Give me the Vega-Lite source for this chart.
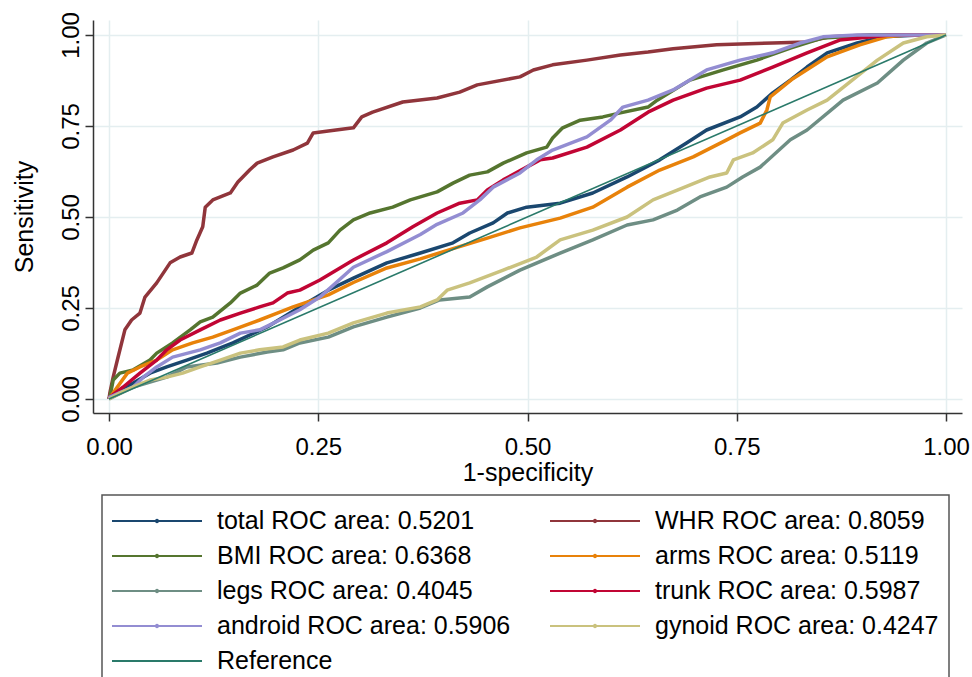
{
  "$schema": "https://vega.github.io/schema/vega-lite/v6.json",
  "width": 869,
  "height": 393,
  "autosize": {"type": "none"},
  "padding": {"left": 93, "top": 20, "right": 10, "bottom": 264},
  "background": "white",
  "config": {
    "font": "Liberation Sans",
    "view": {"stroke": null},
    "axis": {
      "domainColor": "#333333",
      "domainWidth": 1.5,
      "tickColor": "#333333",
      "tickWidth": 1.5,
      "tickSize": 8,
      "gridColor": "#e4eef0",
      "gridWidth": 1.5,
      "labelFontSize": 24,
      "titleFontSize": 25,
      "titleFontWeight": "normal",
      "labelColor": "#000000",
      "titleColor": "#000000",
      "labelFont": "Liberation Sans",
      "titleFont": "Liberation Sans"
    }
  },
  "layer": [
    {
      "data": {
        "values": [
          {"s": "total ROC area: 0.5201", "x": 0, "y": 0},
          {"s": "total ROC area: 0.5201", "x": 0.001, "y": 0.005},
          {"s": "total ROC area: 0.5201", "x": 0.029, "y": 0.044},
          {"s": "total ROC area: 0.5201", "x": 0.049, "y": 0.071},
          {"s": "total ROC area: 0.5201", "x": 0.069, "y": 0.088},
          {"s": "total ROC area: 0.5201", "x": 0.093, "y": 0.107},
          {"s": "total ROC area: 0.5201", "x": 0.117, "y": 0.126},
          {"s": "total ROC area: 0.5201", "x": 0.148, "y": 0.154},
          {"s": "total ROC area: 0.5201", "x": 0.189, "y": 0.198},
          {"s": "total ROC area: 0.5201", "x": 0.228, "y": 0.253},
          {"s": "total ROC area: 0.5201", "x": 0.262, "y": 0.299},
          {"s": "total ROC area: 0.5201", "x": 0.292, "y": 0.332},
          {"s": "total ROC area: 0.5201", "x": 0.332, "y": 0.374},
          {"s": "total ROC area: 0.5201", "x": 0.372, "y": 0.401},
          {"s": "total ROC area: 0.5201", "x": 0.411, "y": 0.429},
          {"s": "total ROC area: 0.5201", "x": 0.431, "y": 0.456},
          {"s": "total ROC area: 0.5201", "x": 0.459, "y": 0.484},
          {"s": "total ROC area: 0.5201", "x": 0.476, "y": 0.511},
          {"s": "total ROC area: 0.5201", "x": 0.499, "y": 0.527},
          {"s": "total ROC area: 0.5201", "x": 0.539, "y": 0.538},
          {"s": "total ROC area: 0.5201", "x": 0.578, "y": 0.566},
          {"s": "total ROC area: 0.5201", "x": 0.619, "y": 0.610},
          {"s": "total ROC area: 0.5201", "x": 0.658, "y": 0.657},
          {"s": "total ROC area: 0.5201", "x": 0.690, "y": 0.703},
          {"s": "total ROC area: 0.5201", "x": 0.714, "y": 0.739},
          {"s": "total ROC area: 0.5201", "x": 0.754, "y": 0.775},
          {"s": "total ROC area: 0.5201", "x": 0.774, "y": 0.802},
          {"s": "total ROC area: 0.5201", "x": 0.793, "y": 0.841},
          {"s": "total ROC area: 0.5201", "x": 0.814, "y": 0.876},
          {"s": "total ROC area: 0.5201", "x": 0.834, "y": 0.912},
          {"s": "total ROC area: 0.5201", "x": 0.858, "y": 0.951},
          {"s": "total ROC area: 0.5201", "x": 0.894, "y": 0.978},
          {"s": "total ROC area: 0.5201", "x": 0.925, "y": 0.995},
          {"s": "total ROC area: 0.5201", "x": 0.969, "y": 1},
          {"s": "total ROC area: 0.5201", "x": 1, "y": 1},

          {"s": "WHR ROC area: 0.8059", "x": 0, "y": 0},
          {"s": "WHR ROC area: 0.8059", "x": 0.001, "y": 0.016},
          {"s": "WHR ROC area: 0.8059", "x": 0.005, "y": 0.060},
          {"s": "WHR ROC area: 0.8059", "x": 0.010, "y": 0.107},
          {"s": "WHR ROC area: 0.8059", "x": 0.019, "y": 0.190},
          {"s": "WHR ROC area: 0.8059", "x": 0.027, "y": 0.217},
          {"s": "WHR ROC area: 0.8059", "x": 0.037, "y": 0.236},
          {"s": "WHR ROC area: 0.8059", "x": 0.043, "y": 0.280},
          {"s": "WHR ROC area: 0.8059", "x": 0.057, "y": 0.319},
          {"s": "WHR ROC area: 0.8059", "x": 0.073, "y": 0.374},
          {"s": "WHR ROC area: 0.8059", "x": 0.085, "y": 0.390},
          {"s": "WHR ROC area: 0.8059", "x": 0.099, "y": 0.401},
          {"s": "WHR ROC area: 0.8059", "x": 0.105, "y": 0.437},
          {"s": "WHR ROC area: 0.8059", "x": 0.112, "y": 0.473},
          {"s": "WHR ROC area: 0.8059", "x": 0.115, "y": 0.527},
          {"s": "WHR ROC area: 0.8059", "x": 0.124, "y": 0.547},
          {"s": "WHR ROC area: 0.8059", "x": 0.145, "y": 0.566},
          {"s": "WHR ROC area: 0.8059", "x": 0.154, "y": 0.596},
          {"s": "WHR ROC area: 0.8059", "x": 0.168, "y": 0.629},
          {"s": "WHR ROC area: 0.8059", "x": 0.177, "y": 0.648},
          {"s": "WHR ROC area: 0.8059", "x": 0.196, "y": 0.665},
          {"s": "WHR ROC area: 0.8059", "x": 0.220, "y": 0.684},
          {"s": "WHR ROC area: 0.8059", "x": 0.237, "y": 0.703},
          {"s": "WHR ROC area: 0.8059", "x": 0.244, "y": 0.731},
          {"s": "WHR ROC area: 0.8059", "x": 0.262, "y": 0.736},
          {"s": "WHR ROC area: 0.8059", "x": 0.292, "y": 0.745},
          {"s": "WHR ROC area: 0.8059", "x": 0.302, "y": 0.775},
          {"s": "WHR ROC area: 0.8059", "x": 0.315, "y": 0.788},
          {"s": "WHR ROC area: 0.8059", "x": 0.351, "y": 0.816},
          {"s": "WHR ROC area: 0.8059", "x": 0.392, "y": 0.827},
          {"s": "WHR ROC area: 0.8059", "x": 0.419, "y": 0.843},
          {"s": "WHR ROC area: 0.8059", "x": 0.440, "y": 0.863},
          {"s": "WHR ROC area: 0.8059", "x": 0.491, "y": 0.885},
          {"s": "WHR ROC area: 0.8059", "x": 0.507, "y": 0.904},
          {"s": "WHR ROC area: 0.8059", "x": 0.530, "y": 0.918},
          {"s": "WHR ROC area: 0.8059", "x": 0.571, "y": 0.931},
          {"s": "WHR ROC area: 0.8059", "x": 0.611, "y": 0.945},
          {"s": "WHR ROC area: 0.8059", "x": 0.644, "y": 0.953},
          {"s": "WHR ROC area: 0.8059", "x": 0.674, "y": 0.962},
          {"s": "WHR ROC area: 0.8059", "x": 0.726, "y": 0.973},
          {"s": "WHR ROC area: 0.8059", "x": 0.793, "y": 0.978},
          {"s": "WHR ROC area: 0.8059", "x": 0.834, "y": 0.981},
          {"s": "WHR ROC area: 0.8059", "x": 0.861, "y": 0.995},
          {"s": "WHR ROC area: 0.8059", "x": 0.909, "y": 1},
          {"s": "WHR ROC area: 0.8059", "x": 1, "y": 1},

          {"s": "BMI ROC area: 0.6368", "x": 0, "y": 0},
          {"s": "BMI ROC area: 0.6368", "x": 0.001, "y": 0.005},
          {"s": "BMI ROC area: 0.6368", "x": 0.005, "y": 0.052},
          {"s": "BMI ROC area: 0.6368", "x": 0.013, "y": 0.071},
          {"s": "BMI ROC area: 0.6368", "x": 0.029, "y": 0.080},
          {"s": "BMI ROC area: 0.6368", "x": 0.049, "y": 0.107},
          {"s": "BMI ROC area: 0.6368", "x": 0.057, "y": 0.126},
          {"s": "BMI ROC area: 0.6368", "x": 0.076, "y": 0.154},
          {"s": "BMI ROC area: 0.6368", "x": 0.097, "y": 0.190},
          {"s": "BMI ROC area: 0.6368", "x": 0.109, "y": 0.212},
          {"s": "BMI ROC area: 0.6368", "x": 0.124, "y": 0.225},
          {"s": "BMI ROC area: 0.6368", "x": 0.145, "y": 0.264},
          {"s": "BMI ROC area: 0.6368", "x": 0.157, "y": 0.291},
          {"s": "BMI ROC area: 0.6368", "x": 0.177, "y": 0.313},
          {"s": "BMI ROC area: 0.6368", "x": 0.192, "y": 0.346},
          {"s": "BMI ROC area: 0.6368", "x": 0.208, "y": 0.360},
          {"s": "BMI ROC area: 0.6368", "x": 0.228, "y": 0.382},
          {"s": "BMI ROC area: 0.6368", "x": 0.244, "y": 0.409},
          {"s": "BMI ROC area: 0.6368", "x": 0.262, "y": 0.429},
          {"s": "BMI ROC area: 0.6368", "x": 0.276, "y": 0.464},
          {"s": "BMI ROC area: 0.6368", "x": 0.292, "y": 0.492},
          {"s": "BMI ROC area: 0.6368", "x": 0.312, "y": 0.511},
          {"s": "BMI ROC area: 0.6368", "x": 0.339, "y": 0.527},
          {"s": "BMI ROC area: 0.6368", "x": 0.360, "y": 0.547},
          {"s": "BMI ROC area: 0.6368", "x": 0.392, "y": 0.569},
          {"s": "BMI ROC area: 0.6368", "x": 0.411, "y": 0.593},
          {"s": "BMI ROC area: 0.6368", "x": 0.431, "y": 0.615},
          {"s": "BMI ROC area: 0.6368", "x": 0.452, "y": 0.624},
          {"s": "BMI ROC area: 0.6368", "x": 0.471, "y": 0.648},
          {"s": "BMI ROC area: 0.6368", "x": 0.499, "y": 0.676},
          {"s": "BMI ROC area: 0.6368", "x": 0.523, "y": 0.692},
          {"s": "BMI ROC area: 0.6368", "x": 0.530, "y": 0.717},
          {"s": "BMI ROC area: 0.6368", "x": 0.542, "y": 0.745},
          {"s": "BMI ROC area: 0.6368", "x": 0.563, "y": 0.766},
          {"s": "BMI ROC area: 0.6368", "x": 0.590, "y": 0.775},
          {"s": "BMI ROC area: 0.6368", "x": 0.611, "y": 0.786},
          {"s": "BMI ROC area: 0.6368", "x": 0.644, "y": 0.802},
          {"s": "BMI ROC area: 0.6368", "x": 0.655, "y": 0.821},
          {"s": "BMI ROC area: 0.6368", "x": 0.694, "y": 0.876},
          {"s": "BMI ROC area: 0.6368", "x": 0.734, "y": 0.904},
          {"s": "BMI ROC area: 0.6368", "x": 0.774, "y": 0.931},
          {"s": "BMI ROC area: 0.6368", "x": 0.814, "y": 0.964},
          {"s": "BMI ROC area: 0.6368", "x": 0.853, "y": 0.992},
          {"s": "BMI ROC area: 0.6368", "x": 0.913, "y": 1},
          {"s": "BMI ROC area: 0.6368", "x": 1, "y": 1},

          {"s": "arms ROC area: 0.5119", "x": 0, "y": 0},
          {"s": "arms ROC area: 0.5119", "x": 0.010, "y": 0.033},
          {"s": "arms ROC area: 0.5119", "x": 0.022, "y": 0.071},
          {"s": "arms ROC area: 0.5119", "x": 0.037, "y": 0.088},
          {"s": "arms ROC area: 0.5119", "x": 0.057, "y": 0.107},
          {"s": "arms ROC area: 0.5119", "x": 0.076, "y": 0.135},
          {"s": "arms ROC area: 0.5119", "x": 0.100, "y": 0.154},
          {"s": "arms ROC area: 0.5119", "x": 0.124, "y": 0.170},
          {"s": "arms ROC area: 0.5119", "x": 0.148, "y": 0.190},
          {"s": "arms ROC area: 0.5119", "x": 0.180, "y": 0.217},
          {"s": "arms ROC area: 0.5119", "x": 0.201, "y": 0.236},
          {"s": "arms ROC area: 0.5119", "x": 0.220, "y": 0.253},
          {"s": "arms ROC area: 0.5119", "x": 0.262, "y": 0.286},
          {"s": "arms ROC area: 0.5119", "x": 0.292, "y": 0.320},
          {"s": "arms ROC area: 0.5119", "x": 0.332, "y": 0.360},
          {"s": "arms ROC area: 0.5119", "x": 0.372, "y": 0.385},
          {"s": "arms ROC area: 0.5119", "x": 0.411, "y": 0.413},
          {"s": "arms ROC area: 0.5119", "x": 0.452, "y": 0.442},
          {"s": "arms ROC area: 0.5119", "x": 0.491, "y": 0.470},
          {"s": "arms ROC area: 0.5119", "x": 0.539, "y": 0.497},
          {"s": "arms ROC area: 0.5119", "x": 0.578, "y": 0.527},
          {"s": "arms ROC area: 0.5119", "x": 0.619, "y": 0.582},
          {"s": "arms ROC area: 0.5119", "x": 0.658, "y": 0.629},
          {"s": "arms ROC area: 0.5119", "x": 0.698, "y": 0.665},
          {"s": "arms ROC area: 0.5119", "x": 0.738, "y": 0.712},
          {"s": "arms ROC area: 0.5119", "x": 0.754, "y": 0.731},
          {"s": "arms ROC area: 0.5119", "x": 0.778, "y": 0.758},
          {"s": "arms ROC area: 0.5119", "x": 0.786, "y": 0.794},
          {"s": "arms ROC area: 0.5119", "x": 0.790, "y": 0.830},
          {"s": "arms ROC area: 0.5119", "x": 0.817, "y": 0.880},
          {"s": "arms ROC area: 0.5119", "x": 0.858, "y": 0.940},
          {"s": "arms ROC area: 0.5119", "x": 0.897, "y": 0.973},
          {"s": "arms ROC area: 0.5119", "x": 0.929, "y": 0.995},
          {"s": "arms ROC area: 0.5119", "x": 0.953, "y": 1},
          {"s": "arms ROC area: 0.5119", "x": 1, "y": 1},

          {"s": "legs ROC area: 0.4045", "x": 0, "y": 0},
          {"s": "legs ROC area: 0.4045", "x": 0.029, "y": 0.033},
          {"s": "legs ROC area: 0.4045", "x": 0.069, "y": 0.060},
          {"s": "legs ROC area: 0.4045", "x": 0.093, "y": 0.088},
          {"s": "legs ROC area: 0.4045", "x": 0.129, "y": 0.099},
          {"s": "legs ROC area: 0.4045", "x": 0.157, "y": 0.115},
          {"s": "legs ROC area: 0.4045", "x": 0.189, "y": 0.129},
          {"s": "legs ROC area: 0.4045", "x": 0.208, "y": 0.135},
          {"s": "legs ROC area: 0.4045", "x": 0.228, "y": 0.154},
          {"s": "legs ROC area: 0.4045", "x": 0.262, "y": 0.170},
          {"s": "legs ROC area: 0.4045", "x": 0.292, "y": 0.198},
          {"s": "legs ROC area: 0.4045", "x": 0.332, "y": 0.225},
          {"s": "legs ROC area: 0.4045", "x": 0.372, "y": 0.250},
          {"s": "legs ROC area: 0.4045", "x": 0.395, "y": 0.272},
          {"s": "legs ROC area: 0.4045", "x": 0.431, "y": 0.280},
          {"s": "legs ROC area: 0.4045", "x": 0.452, "y": 0.308},
          {"s": "legs ROC area: 0.4045", "x": 0.491, "y": 0.354},
          {"s": "legs ROC area: 0.4045", "x": 0.539, "y": 0.401},
          {"s": "legs ROC area: 0.4045", "x": 0.578, "y": 0.437},
          {"s": "legs ROC area: 0.4045", "x": 0.619, "y": 0.478},
          {"s": "legs ROC area: 0.4045", "x": 0.650, "y": 0.492},
          {"s": "legs ROC area: 0.4045", "x": 0.679, "y": 0.519},
          {"s": "legs ROC area: 0.4045", "x": 0.706, "y": 0.555},
          {"s": "legs ROC area: 0.4045", "x": 0.738, "y": 0.582},
          {"s": "legs ROC area: 0.4045", "x": 0.757, "y": 0.610},
          {"s": "legs ROC area: 0.4045", "x": 0.778, "y": 0.637},
          {"s": "legs ROC area: 0.4045", "x": 0.814, "y": 0.712},
          {"s": "legs ROC area: 0.4045", "x": 0.834, "y": 0.739},
          {"s": "legs ROC area: 0.4045", "x": 0.877, "y": 0.821},
          {"s": "legs ROC area: 0.4045", "x": 0.918, "y": 0.868},
          {"s": "legs ROC area: 0.4045", "x": 0.949, "y": 0.931},
          {"s": "legs ROC area: 0.4045", "x": 0.977, "y": 0.978},
          {"s": "legs ROC area: 0.4045", "x": 1, "y": 1},

          {"s": "trunk ROC area: 0.5987", "x": 0, "y": 0},
          {"s": "trunk ROC area: 0.5987", "x": 0.001, "y": 0.005},
          {"s": "trunk ROC area: 0.5987", "x": 0.017, "y": 0.033},
          {"s": "trunk ROC area: 0.5987", "x": 0.037, "y": 0.071},
          {"s": "trunk ROC area: 0.5987", "x": 0.057, "y": 0.107},
          {"s": "trunk ROC area: 0.5987", "x": 0.069, "y": 0.135},
          {"s": "trunk ROC area: 0.5987", "x": 0.085, "y": 0.162},
          {"s": "trunk ROC area: 0.5987", "x": 0.109, "y": 0.190},
          {"s": "trunk ROC area: 0.5987", "x": 0.133, "y": 0.217},
          {"s": "trunk ROC area: 0.5987", "x": 0.157, "y": 0.236},
          {"s": "trunk ROC area: 0.5987", "x": 0.180, "y": 0.253},
          {"s": "trunk ROC area: 0.5987", "x": 0.196, "y": 0.264},
          {"s": "trunk ROC area: 0.5987", "x": 0.213, "y": 0.291},
          {"s": "trunk ROC area: 0.5987", "x": 0.228, "y": 0.299},
          {"s": "trunk ROC area: 0.5987", "x": 0.252, "y": 0.327},
          {"s": "trunk ROC area: 0.5987", "x": 0.292, "y": 0.382},
          {"s": "trunk ROC area: 0.5987", "x": 0.332, "y": 0.429},
          {"s": "trunk ROC area: 0.5987", "x": 0.363, "y": 0.473},
          {"s": "trunk ROC area: 0.5987", "x": 0.392, "y": 0.511},
          {"s": "trunk ROC area: 0.5987", "x": 0.419, "y": 0.538},
          {"s": "trunk ROC area: 0.5987", "x": 0.440, "y": 0.547},
          {"s": "trunk ROC area: 0.5987", "x": 0.452, "y": 0.574},
          {"s": "trunk ROC area: 0.5987", "x": 0.471, "y": 0.602},
          {"s": "trunk ROC area: 0.5987", "x": 0.499, "y": 0.637},
          {"s": "trunk ROC area: 0.5987", "x": 0.515, "y": 0.657},
          {"s": "trunk ROC area: 0.5987", "x": 0.530, "y": 0.662},
          {"s": "trunk ROC area: 0.5987", "x": 0.571, "y": 0.692},
          {"s": "trunk ROC area: 0.5987", "x": 0.611, "y": 0.739},
          {"s": "trunk ROC area: 0.5987", "x": 0.644, "y": 0.788},
          {"s": "trunk ROC area: 0.5987", "x": 0.674, "y": 0.821},
          {"s": "trunk ROC area: 0.5987", "x": 0.714, "y": 0.854},
          {"s": "trunk ROC area: 0.5987", "x": 0.754, "y": 0.876},
          {"s": "trunk ROC area: 0.5987", "x": 0.793, "y": 0.912},
          {"s": "trunk ROC area: 0.5987", "x": 0.834, "y": 0.951},
          {"s": "trunk ROC area: 0.5987", "x": 0.873, "y": 0.986},
          {"s": "trunk ROC area: 0.5987", "x": 0.933, "y": 1},
          {"s": "trunk ROC area: 0.5987", "x": 1, "y": 1},

          {"s": "android ROC area: 0.5906", "x": 0, "y": 0},
          {"s": "android ROC area: 0.5906", "x": 0.001, "y": 0.005},
          {"s": "android ROC area: 0.5906", "x": 0.029, "y": 0.033},
          {"s": "android ROC area: 0.5906", "x": 0.041, "y": 0.060},
          {"s": "android ROC area: 0.5906", "x": 0.057, "y": 0.088},
          {"s": "android ROC area: 0.5906", "x": 0.076, "y": 0.115},
          {"s": "android ROC area: 0.5906", "x": 0.109, "y": 0.135},
          {"s": "android ROC area: 0.5906", "x": 0.133, "y": 0.154},
          {"s": "android ROC area: 0.5906", "x": 0.157, "y": 0.181},
          {"s": "android ROC area: 0.5906", "x": 0.180, "y": 0.190},
          {"s": "android ROC area: 0.5906", "x": 0.204, "y": 0.217},
          {"s": "android ROC area: 0.5906", "x": 0.228, "y": 0.245},
          {"s": "android ROC area: 0.5906", "x": 0.252, "y": 0.280},
          {"s": "android ROC area: 0.5906", "x": 0.292, "y": 0.362},
          {"s": "android ROC area: 0.5906", "x": 0.332, "y": 0.405},
          {"s": "android ROC area: 0.5906", "x": 0.372, "y": 0.452},
          {"s": "android ROC area: 0.5906", "x": 0.392, "y": 0.480},
          {"s": "android ROC area: 0.5906", "x": 0.423, "y": 0.511},
          {"s": "android ROC area: 0.5906", "x": 0.443, "y": 0.547},
          {"s": "android ROC area: 0.5906", "x": 0.459, "y": 0.582},
          {"s": "android ROC area: 0.5906", "x": 0.491, "y": 0.621},
          {"s": "android ROC area: 0.5906", "x": 0.511, "y": 0.657},
          {"s": "android ROC area: 0.5906", "x": 0.530, "y": 0.684},
          {"s": "android ROC area: 0.5906", "x": 0.571, "y": 0.720},
          {"s": "android ROC area: 0.5906", "x": 0.599, "y": 0.766},
          {"s": "android ROC area: 0.5906", "x": 0.614, "y": 0.802},
          {"s": "android ROC area: 0.5906", "x": 0.644, "y": 0.821},
          {"s": "android ROC area: 0.5906", "x": 0.674, "y": 0.849},
          {"s": "android ROC area: 0.5906", "x": 0.714, "y": 0.904},
          {"s": "android ROC area: 0.5906", "x": 0.754, "y": 0.931},
          {"s": "android ROC area: 0.5906", "x": 0.793, "y": 0.951},
          {"s": "android ROC area: 0.5906", "x": 0.826, "y": 0.978},
          {"s": "android ROC area: 0.5906", "x": 0.853, "y": 0.995},
          {"s": "android ROC area: 0.5906", "x": 0.894, "y": 1},
          {"s": "android ROC area: 0.5906", "x": 1, "y": 1},

          {"s": "gynoid ROC area: 0.4247", "x": 0, "y": 0},
          {"s": "gynoid ROC area: 0.4247", "x": 0.013, "y": 0.016},
          {"s": "gynoid ROC area: 0.4247", "x": 0.029, "y": 0.033},
          {"s": "gynoid ROC area: 0.4247", "x": 0.049, "y": 0.052},
          {"s": "gynoid ROC area: 0.4247", "x": 0.069, "y": 0.060},
          {"s": "gynoid ROC area: 0.4247", "x": 0.088, "y": 0.071},
          {"s": "gynoid ROC area: 0.4247", "x": 0.109, "y": 0.088},
          {"s": "gynoid ROC area: 0.4247", "x": 0.133, "y": 0.107},
          {"s": "gynoid ROC area: 0.4247", "x": 0.157, "y": 0.126},
          {"s": "gynoid ROC area: 0.4247", "x": 0.180, "y": 0.135},
          {"s": "gynoid ROC area: 0.4247", "x": 0.208, "y": 0.143},
          {"s": "gynoid ROC area: 0.4247", "x": 0.228, "y": 0.162},
          {"s": "gynoid ROC area: 0.4247", "x": 0.262, "y": 0.181},
          {"s": "gynoid ROC area: 0.4247", "x": 0.292, "y": 0.209},
          {"s": "gynoid ROC area: 0.4247", "x": 0.332, "y": 0.236},
          {"s": "gynoid ROC area: 0.4247", "x": 0.372, "y": 0.253},
          {"s": "gynoid ROC area: 0.4247", "x": 0.392, "y": 0.272},
          {"s": "gynoid ROC area: 0.4247", "x": 0.404, "y": 0.299},
          {"s": "gynoid ROC area: 0.4247", "x": 0.431, "y": 0.319},
          {"s": "gynoid ROC area: 0.4247", "x": 0.471, "y": 0.354},
          {"s": "gynoid ROC area: 0.4247", "x": 0.511, "y": 0.390},
          {"s": "gynoid ROC area: 0.4247", "x": 0.539, "y": 0.437},
          {"s": "gynoid ROC area: 0.4247", "x": 0.578, "y": 0.464},
          {"s": "gynoid ROC area: 0.4247", "x": 0.619, "y": 0.500},
          {"s": "gynoid ROC area: 0.4247", "x": 0.650, "y": 0.547},
          {"s": "gynoid ROC area: 0.4247", "x": 0.679, "y": 0.574},
          {"s": "gynoid ROC area: 0.4247", "x": 0.718, "y": 0.610},
          {"s": "gynoid ROC area: 0.4247", "x": 0.738, "y": 0.621},
          {"s": "gynoid ROC area: 0.4247", "x": 0.746, "y": 0.657},
          {"s": "gynoid ROC area: 0.4247", "x": 0.769, "y": 0.676},
          {"s": "gynoid ROC area: 0.4247", "x": 0.793, "y": 0.712},
          {"s": "gynoid ROC area: 0.4247", "x": 0.805, "y": 0.758},
          {"s": "gynoid ROC area: 0.4247", "x": 0.834, "y": 0.794},
          {"s": "gynoid ROC area: 0.4247", "x": 0.858, "y": 0.821},
          {"s": "gynoid ROC area: 0.4247", "x": 0.918, "y": 0.931},
          {"s": "gynoid ROC area: 0.4247", "x": 0.949, "y": 0.978},
          {"s": "gynoid ROC area: 0.4247", "x": 0.977, "y": 0.995},
          {"s": "gynoid ROC area: 0.4247", "x": 1, "y": 1}
        ]
      },
      "mark": {"type": "line", "strokeWidth": 3.5, "strokeJoin": "round"},
      "encoding": {
        "x": {
          "field": "x",
          "type": "quantitative",
          "scale": {"domain": [-0.0191, 1.0191], "nice": false, "zero": false},
          "axis": {
            "values": [0, 0.25, 0.5, 0.75, 1],
            "format": ".2f",
            "title": "1-specificity",
            "labelFlush": false,
            "labelPadding": 14,
            "titlePadding": 1
          }
        },
        "y": {
          "field": "y",
          "type": "quantitative",
          "scale": {"domain": [-0.0385, 1.0412], "nice": false, "zero": false},
          "axis": {
            "values": [0, 0.25, 0.5, 0.75, 1],
            "format": ".2f",
            "title": "Sensitivity",
            "labelFlush": false,
            "labelAngle": 270,
            "labelAlign": "center",
            "labelBaseline": "bottom",
            "labelPadding": 2,
            "titlePadding": 22
          }
        },
        "color": {
          "field": "s",
          "type": "nominal",
          "scale": {
            "domain": [
              "total ROC area: 0.5201",
              "WHR ROC area: 0.8059",
              "BMI ROC area: 0.6368",
              "arms ROC area: 0.5119",
              "legs ROC area: 0.4045",
              "trunk ROC area: 0.5987",
              "android ROC area: 0.5906",
              "gynoid ROC area: 0.4247",
              "Reference"
            ],
            "range": ["#1a476f", "#90353b", "#55752f", "#e8820a", "#6e8e84", "#c10534", "#938dd2", "#cac27e", "#2a7a6a"]
          },
          "legend": {
            "title": null,
            "orient": "none",
            "legendX": 9,
            "legendY": 475,
            "columns": 2,
            "direction": "horizontal",
            "labelFontSize": 25,
            "labelFont": "Liberation Sans",
            "labelColor": "#000000",
            "labelLimit": 500,
            "symbolType": "M-3,0H3M-0.08,0A0.08,0.08,0,1,1,0.08,0A0.08,0.08,0,1,1,-0.08,0",
            "symbolSize": 900,
            "symbolStrokeWidth": 2,
            "symbolOffset": 29,
            "labelOffset": 44,
            "rowPadding": 6,
            "columnPadding": 35,
            "padding": 10,
            "strokeColor": "#555555",
            "fillColor": "#ffffff",
            "encode": {
              "symbols": {
                "update": {
                  "shape": {"signal": "datum.value === 'Reference' ? 'M-3,0H3' : 'M-3,0H3M-0.08,0A0.08,0.08,0,1,1,0.08,0A0.08,0.08,0,1,1,-0.08,0'"},
                  "strokeWidth": {"value": 2}
                }
              },
              "legend": {
                "update": {"strokeWidth": {"value": 1.5}}
              }
            }
          }
        }
      }
    },
    {
      "data": {
        "values": [
          {"s": "Reference", "x": 0, "y": 0},
          {"s": "Reference", "x": 1, "y": 1}
        ]
      },
      "mark": {"type": "line", "strokeWidth": 1.6},
      "encoding": {
        "x": {"field": "x", "type": "quantitative"},
        "y": {"field": "y", "type": "quantitative"},
        "color": {"field": "s", "type": "nominal"}
      }
    }
  ]
}
